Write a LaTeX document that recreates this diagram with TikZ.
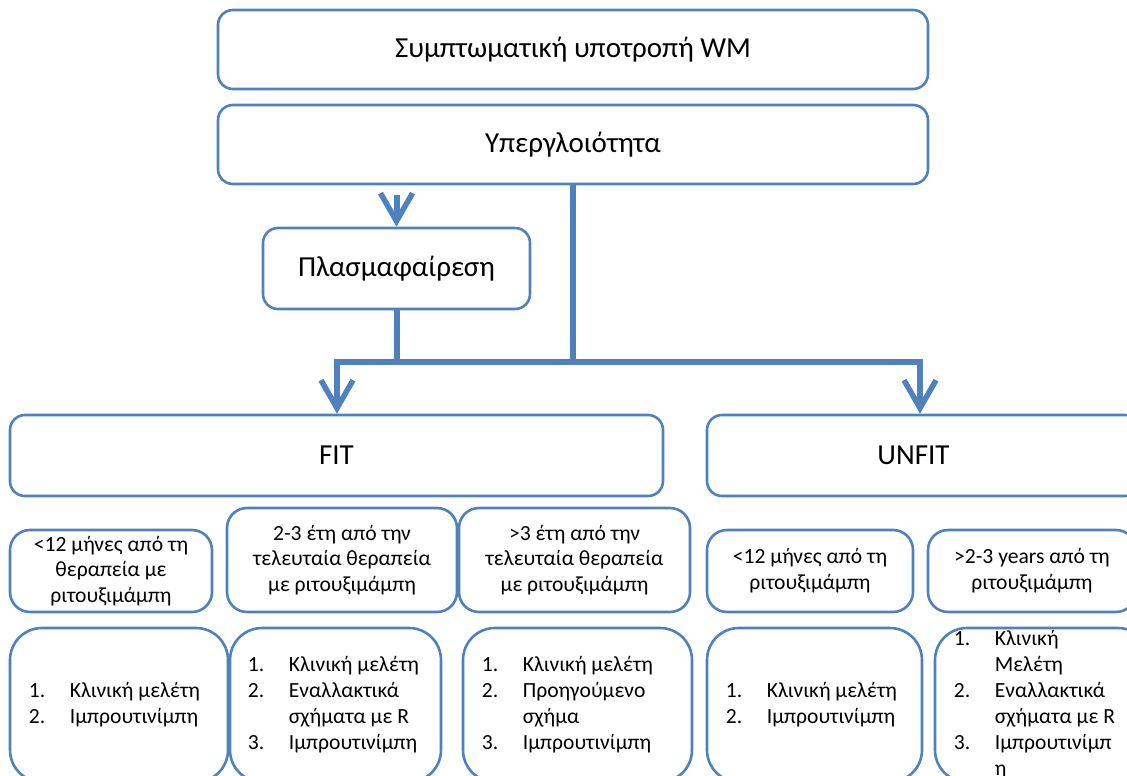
\documentclass[tikz,border=0pt]{standalone}
\usepackage{fontspec}
\setmainfont{Carlito}
\usetikzlibrary{arrows.meta}
\definecolor{wmblue}{RGB}{79,129,189}
% numbered list line and its continuation line
\newcommand\lnum[2]{\makebox[41pt][l]{#1}#2}
\newcommand\lcont[1]{\hspace*{41pt}#1}
\begin{document}
\begin{tikzpicture}[x=1pt,y=-1pt,
  box/.style={draw=wmblue, line width=2.6pt, fill=white, rounded corners=15pt,
    inner sep=0pt, align=center, text=black},
  bigtxt/.style={font=\fontsize{29}{35}\selectfont},
  midtxt/.style={font=\fontsize{21.6}{25.8}\selectfont},
  condbox/.style={box, midtxt, rounded corners=20pt},
  listbox/.style={box, rounded corners=32pt, minimum height=154pt},
  listtxt/.style={inner sep=0pt, align=left, anchor=west, font=\fontsize{21.6}{26}\selectfont},
  conn/.style={draw=wmblue, line width=6pt},
  arr/.style={conn, -{Straight Barb[length=28pt,width=32pt,line width=5.5pt]}}
]
\useasboundingbox (0,0) rectangle (1127,776);
\clip (0,0) rectangle (1127,776);

% header boxes
\node[box, bigtxt, minimum width=710pt, minimum height=79pt] (relapse) at (573,49.5) {Συμπτωματική υποτροπή WM};
\node[box, bigtxt, minimum width=710pt, minimum height=79pt] (hyper) at (573,144.5) {Υπεργλοιότητα};
\node[box, bigtxt, minimum width=267pt, minimum height=81pt] (plasma) at (396.5,268.5) {Πλασμαφαίρεση};

% fitness groups
\node[box, bigtxt, minimum width=653pt, minimum height=81pt] (fit) at (336.5,455.5) {FIT};
\node[box, bigtxt, minimum width=433pt, minimum height=81pt] (unfit) at (923.5,455.5) {UNFIT\hspace*{20pt}};

% time since last rituximab
\node[condbox, minimum width=202pt, minimum height=82pt] (fa) at (111,571) {<12 μήνες από τη\\θεραπεία με\\ριτουξιμάμπη};
\node[condbox, minimum width=230pt, minimum height=104pt] (fb) at (342,560) {2-3 έτη από την\\τελευταία θεραπεία\\με ριτουξιμάμπη};
\node[condbox, minimum width=231pt, minimum height=104pt] (fc) at (574.5,560) {>3 έτη από την\\τελευταία θεραπεία\\με ριτουξιμάμπη};
\node[condbox, minimum width=206pt, minimum height=82pt] (ua) at (810,571) {<12 μήνες από τη\\ριτουξιμάμπη};
\node[condbox, minimum width=208pt, minimum height=82pt] (ub) at (1032,571) {>2-3 years από τη\\ριτουξιμάμπη};

% treatment options
\node[listbox, minimum width=218pt] (ta) at (119,705) {};
\node[listbox, minimum width=211pt] (tb) at (335.5,705) {};
\node[listbox, minimum width=229pt] (tc) at (577.5,705) {};
\node[listbox, minimum width=215pt] (td) at (814.5,705) {};
\node[listbox, minimum width=215pt] (te) at (1042.5,705) {};

\node[listtxt] (tatxt) at ([xshift=20pt]ta.west) {\lnum{1.}{Κλινική μελέτη}\\\lnum{2.}{Ιμπρουτινίμπη}};
\node[listtxt] (tbtxt) at ([xshift=19pt]tb.west) {\lnum{1.}{Κλινική μελέτη}\\\lnum{2.}{Εναλλακτικά}\\\lcont{σχήματα με R}\\\lnum{3.}{Ιμπρουτινίμπη}};
\node[listtxt] (tctxt) at ([xshift=20pt]tc.west) {\lnum{1.}{Κλινική μελέτη}\\\lnum{2.}{Προηγούμενο}\\\lcont{σχήμα}\\\lnum{3.}{Ιμπρουτινίμπη}};
\node[listtxt] (tdtxt) at ([xshift=20pt]td.west) {\lnum{1.}{Κλινική μελέτη}\\\lnum{2.}{Ιμπρουτινίμπη}};
\node[listtxt] (tetxt) at ([xshift=20pt]te.west) {\lnum{1.}{Κλινική}\\\lcont{Μελέτη}\\\lnum{2.}{Εναλλακτικά}\\\lcont{σχήματα με R}\\\lnum{3.}{Ιμπρουτινίμπ}\\\lcont{η}};

% connectors
\coordinate (topfree) at (396.5,195);
\coordinate (jm) at (573,362);
\coordinate (jl) at (337,362);
\coordinate (jr) at (920,362);

\draw[arr] (topfree) -- (plasma.north);
\draw[conn] (hyper.south) -- (jm);
\draw[conn] (plasma.south) -- (plasma.south |- jm);
\draw[arr] (jm) -- (jl) -- (jl |- fit.north);
\draw[arr] (jm) -- (jr) -- (jr |- unfit.north);
\end{tikzpicture}
\end{document}
